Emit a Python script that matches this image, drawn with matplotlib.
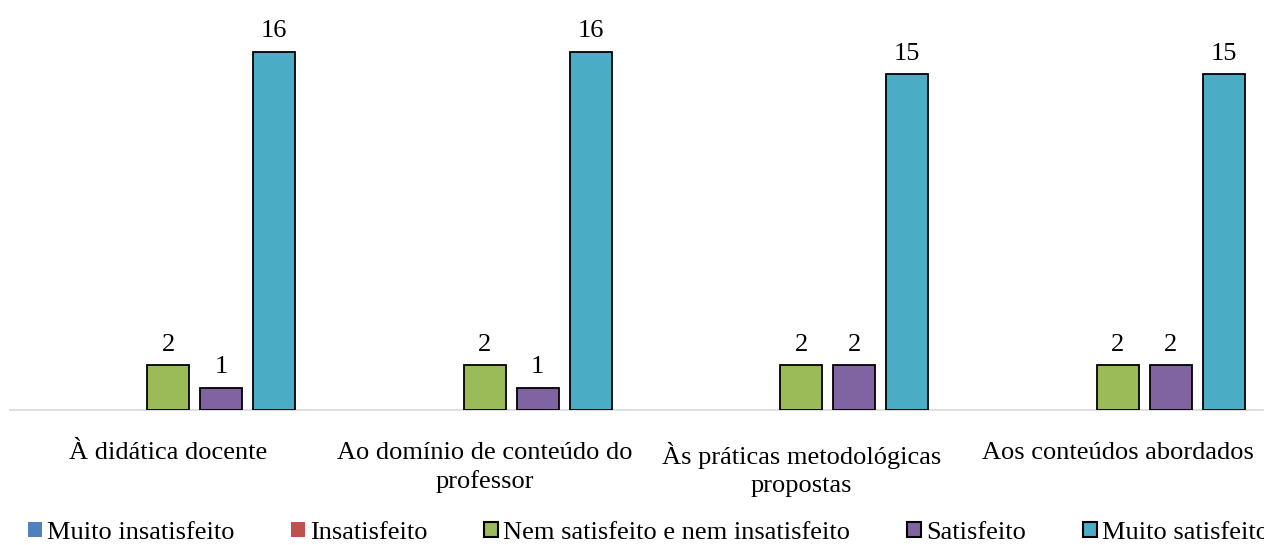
import matplotlib
matplotlib.use("Agg")
import matplotlib.pyplot as plt
from matplotlib.patches import Patch
import numpy as np

categories = ["À didática docente", "Ao domínio de conteúdo do\nprofessor",
              "Às práticas metodológicas\npropostas", "Aos conteúdos abordados"]
series_names = ["Muito insatisfeito", "Insatisfeito", "Nem satisfeito e nem insatisfeito",
                "Satisfeito", "Muito satisfeito"]
muito_insatisfeito = [0, 0, 0, 0]
insatisfeito = [0, 0, 0, 0]
nem = [2, 2, 2, 2]
satisfeito = [1, 1, 2, 2]
muito_satisfeito = [16, 16, 15, 15]
values = [muito_insatisfeito, insatisfeito, nem, satisfeito, muito_satisfeito]
colors = ["#4F81BD", "#C0504D", "#9BBB59", "#8064A2", "#4BACC6"]

plt.rcParams['font.family'] = ['Liberation Serif', 'DejaVu Serif']
fig = plt.figure(figsize=(12.64, 5.45), dpi=100)
ax = fig.add_axes([10/1264, 135/545, 1254/1264, 410/545])

x = np.arange(len(categories))
pitch = 53/316.5
width = 42/316.5
handles = []
for i, (vals, col, name) in enumerate(zip(values, colors, series_names)):
    has_edge = any(v > 0 for v in vals)
    bars = ax.bar(x + (i - 2) * pitch, vals, width, color=col,
                  edgecolor="black" if has_edge else "none", linewidth=1.3, zorder=3)
    labels = [str(v) if v > 0 else "" for v in vals]
    ax.bar_label(bars, labels=labels, padding=7, fontsize=19)
    handles.append(Patch(facecolor=col, edgecolor="black" if has_edge else "none",
                         linewidth=1.5 if has_edge else 0, label=name))

ax.set_xlim(-0.5, -0.5 + 1254/316.5)
ax.set_ylim(0, 410/22.375)
ax.set_xticks(x)
ax.set_xticklabels(categories, fontsize=19, linespacing=1.33)
ax.tick_params(axis='x', length=0, pad=23)
ax.set_yticks([])
for s in ["top", "right", "left"]:
    ax.spines[s].set_visible(False)
ax.spines["bottom"].set_color("#D9D9D9")
ax.spines["bottom"].set_linewidth(1.2)

fig.legend(handles=handles, loc="center left", bbox_to_anchor=(28/1264, 12/545),
           ncol=5, frameon=False, fontsize=19, handlelength=0.53, handleheight=0.53,
           handletextpad=0.19, columnspacing=2.15, borderpad=0, borderaxespad=0)

fig.savefig("out.png", dpi=100)
